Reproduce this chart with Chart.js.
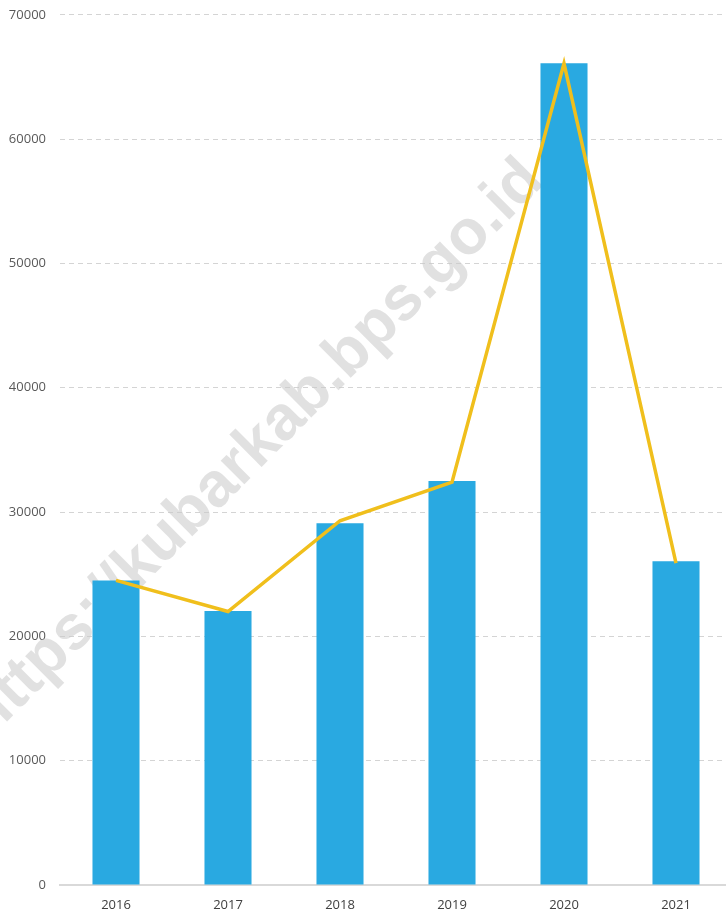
<!DOCTYPE html>
<html>
<head>
<meta charset="utf-8">
<script src="https://cdn.jsdelivr.net/npm/chart.js@4/dist/chart.umd.min.js"></script>
<style>
  html, body { margin: 0; padding: 0; background: #fff; overflow: hidden; }
  #wrap { position: relative; width: 732px; height: 921px; margin-top: -7px; }
</style>
</head>
<body>
<div id="wrap"><canvas id="chart"></canvas></div>
<script>
// values
const years = ['2016', '2017', '2018', '2019', '2020', '2021'];
const barValues = [24500, 22050, 29100, 32500, 66100, 26050];
const lineValues = [24500, 22000, 29300, 32400, 66100, 25900];
const yTicks = [0, 10000, 20000, 30000, 40000, 50000, 60000, 70000];
const watermark = 'https://kubarkab.bps.go.id';

// faint diagonal watermark behind the bars
const watermarkPlugin = {
    id: 'watermark',
    beforeDatasetsDraw(chart) {
        const ctx = chart.ctx;
        ctx.save();
        ctx.translate(255, 456);
        ctx.rotate(-45 * Math.PI / 180);
        ctx.font = 'bold 63px "Liberation Sans", Arial, sans-serif';
        ctx.fillStyle = 'rgba(200,200,200,0.55)';
        ctx.textAlign = 'center';
        ctx.textBaseline = 'middle';
        ctx.fillText(watermark, 0, 0);
        ctx.restore();
    }
};

const ctx = document.getElementById('chart').getContext('2d');
new Chart(ctx, {
    data: {
        labels: years,
        datasets: [
            {
                type: 'line',
                data: lineValues,
                borderColor: '#f0bf1c',
                borderWidth: 3.5,
                pointRadius: 0,
                tension: 0,
                order: 0
            },
            {
                type: 'bar',
                data: barValues,
                backgroundColor: '#29a9e1',
                categoryPercentage: 1,
                barPercentage: 0.42,
                order: 1
            }
        ]
    },
    options: {
        responsive: true,
        maintainAspectRatio: false,
        animation: false,
        layout: { padding: { top: 1, right: 0, bottom: 0, left: 0 } },
        plugins: { legend: { display: false }, tooltip: { enabled: false } },
        scales: {
            x: {
                afterFit(scale) { scale.height = 29; },
                grid: { display: false, drawTicks: false },
                border: { display: true, color: '#d9d9d9', width: 2 },
                ticks: { color: '#404040', padding: 12, font: { family: 'Open Sans', size: 13 } }
            },
            y: {
                min: 0,
                max: 70000,
                afterBuildTicks(scale) { scale.ticks = yTicks.map(v => ({ value: v })); },
                afterFit(scale) { scale.width = 60; },
                grid: { color: '#d4d4d4', lineWidth: 1, drawTicks: false },
                border: { display: false, dash: [5, 4] },
                ticks: {
                    color: '#595959',
                    padding: 14,
                    font: { family: 'Open Sans', size: 13 },
                    callback: v => String(v)
                }
            }
        }
    },
    plugins: [watermarkPlugin]
});
</script>
</body>
</html>
